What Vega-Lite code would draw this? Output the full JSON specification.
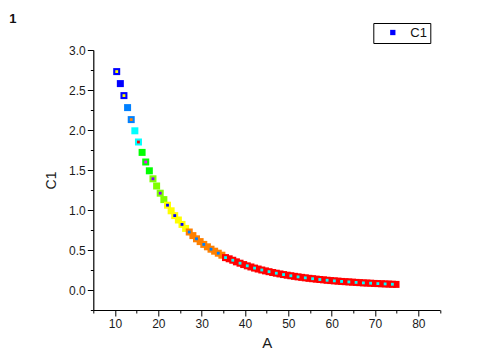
{
  "$schema": "https://vega.github.io/schema/vega-lite/v6.json",
  "autosize": {"type": "none"},
  "width": 346.7,
  "height": 260,
  "padding": {"left": 93.3, "top": 50, "right": 47, "bottom": 44},
  "background": "#ffffff",
  "title": {"text": "1", "anchor": "start", "frame": "group", "dx": -84, "offset": -3, "font": "Liberation Sans", "fontSize": 13, "fontWeight": "bold", "color": "#111111"},
  "config": {
    "view": {"stroke": null},
    "axis": {"labelFont": "Liberation Sans", "titleFont": "Liberation Sans", "labelColor": "#1a1a1a", "titleColor": "#1a1a1a", "domainColor": "#000000", "tickColor": "#000000", "grid": false}
  },
  "data": {"values": [
    {"x": 10.40, "y": 2.73, "d": 1}, {"x": 11.24, "y": 2.58, "d": 0}, {"x": 12.07, "y": 2.43, "d": 1}, {"x": 12.91, "y": 2.28, "d": 0},
    {"x": 13.75, "y": 2.13, "d": 1}, {"x": 14.59, "y": 1.99, "d": 0}, {"x": 15.42, "y": 1.85, "d": 1}, {"x": 16.26, "y": 1.72, "d": 0},
    {"x": 17.10, "y": 1.60, "d": 1}, {"x": 17.93, "y": 1.49, "d": 0}, {"x": 18.77, "y": 1.39, "d": 1}, {"x": 19.61, "y": 1.30, "d": 0},
    {"x": 20.44, "y": 1.21, "d": 1}, {"x": 21.28, "y": 1.13, "d": 0}, {"x": 22.12, "y": 1.06, "d": 1}, {"x": 22.96, "y": 0.99, "d": 0},
    {"x": 23.79, "y": 0.93, "d": 1}, {"x": 24.63, "y": 0.875, "d": 0}, {"x": 25.47, "y": 0.82, "d": 1}, {"x": 26.30, "y": 0.77, "d": 0},
    {"x": 27.14, "y": 0.725, "d": 1}, {"x": 27.98, "y": 0.68, "d": 0}, {"x": 28.81, "y": 0.64, "d": 1}, {"x": 29.65, "y": 0.605, "d": 0},
    {"x": 30.49, "y": 0.57, "d": 1}, {"x": 31.33, "y": 0.54, "d": 0}, {"x": 32.16, "y": 0.51, "d": 1}, {"x": 33.00, "y": 0.485, "d": 0},
    {"x": 33.84, "y": 0.46, "d": 1}, {"x": 34.67, "y": 0.435, "d": 0}, {"x": 35.51, "y": 0.405, "d": 1}, {"x": 36.35, "y": 0.39, "d": 0},
    {"x": 37.18, "y": 0.372, "d": 1}, {"x": 38.02, "y": 0.352, "d": 0}, {"x": 38.86, "y": 0.335, "d": 1}, {"x": 39.70, "y": 0.318, "d": 0},
    {"x": 40.53, "y": 0.302, "d": 1}, {"x": 41.37, "y": 0.288, "d": 0}, {"x": 42.21, "y": 0.274, "d": 1}, {"x": 43.04, "y": 0.262, "d": 0},
    {"x": 43.88, "y": 0.25, "d": 1}, {"x": 44.72, "y": 0.239, "d": 0}, {"x": 45.55, "y": 0.229, "d": 1}, {"x": 46.39, "y": 0.219, "d": 0},
    {"x": 47.23, "y": 0.21, "d": 1}, {"x": 48.07, "y": 0.201, "d": 0}, {"x": 48.90, "y": 0.193, "d": 1}, {"x": 49.74, "y": 0.185, "d": 0},
    {"x": 50.58, "y": 0.178, "d": 1}, {"x": 51.41, "y": 0.171, "d": 0}, {"x": 52.25, "y": 0.164, "d": 1}, {"x": 53.09, "y": 0.158, "d": 0},
    {"x": 53.92, "y": 0.152, "d": 1}, {"x": 54.76, "y": 0.146, "d": 0}, {"x": 55.60, "y": 0.141, "d": 1}, {"x": 56.44, "y": 0.136, "d": 0},
    {"x": 57.27, "y": 0.131, "d": 1}, {"x": 58.11, "y": 0.127, "d": 0}, {"x": 58.95, "y": 0.122, "d": 1}, {"x": 59.78, "y": 0.118, "d": 0},
    {"x": 60.62, "y": 0.114, "d": 1}, {"x": 61.46, "y": 0.111, "d": 0}, {"x": 62.29, "y": 0.107, "d": 1}, {"x": 63.13, "y": 0.104, "d": 0},
    {"x": 63.97, "y": 0.101, "d": 1}, {"x": 64.81, "y": 0.098, "d": 0}, {"x": 65.64, "y": 0.095, "d": 1}, {"x": 66.48, "y": 0.092, "d": 0},
    {"x": 67.32, "y": 0.089, "d": 1}, {"x": 68.15, "y": 0.087, "d": 0}, {"x": 68.99, "y": 0.085, "d": 1}, {"x": 69.83, "y": 0.082, "d": 0},
    {"x": 70.66, "y": 0.08, "d": 1}, {"x": 71.50, "y": 0.078, "d": 0}, {"x": 72.34, "y": 0.076, "d": 1}, {"x": 73.18, "y": 0.074, "d": 0},
    {"x": 74.01, "y": 0.072, "d": 1}, {"x": 74.85, "y": 0.070, "d": 0}
  ]},
  "resolve": {"scale": {"color": "independent"}, "axis": {"x": "independent", "y": "independent"}},
  "layer": [
    {
      "transform": [{"calculate": "'C1'", "as": "series"}],
      "mark": {"type": "point", "filled": true, "size": 49, "opacity": 1, "strokeWidth": 0},
      "encoding": {
        "x": {"field": "x", "type": "quantitative", "scale": {"domain": [5, 85], "nice": false, "zero": false},
              "axis": {"orient": "bottom", "values": [10, 20, 30, 40, 50, 60, 70, 80], "title": "A", "titleFontSize": 15, "titleFontWeight": "normal", "titlePadding": 6, "labelFontSize": 12, "tickSize": 6, "labelPadding": 2, "domainWidth": 1.2, "tickWidth": 1}},
        "y": {"field": "y", "type": "quantitative", "scale": {"domain": [-0.25, 3.0], "nice": false, "zero": false},
              "axis": {"orient": "left", "values": [0, 0.5, 1, 1.5, 2, 2.5, 3], "format": ".1f", "title": "C1", "titleFontSize": 14, "titleFontWeight": "normal", "titlePadding": 10, "labelFontSize": 12, "tickSize": 6, "labelPadding": 2, "domainWidth": 1.2, "tickWidth": 1}},
        "color": {"field": "y", "type": "quantitative",
                  "scale": {"type": "threshold", "domain": [0.42, 0.745, 1.08, 1.40, 1.74, 2.06, 2.40],
                            "range": ["#ff0000", "#ff8000", "#ffff00", "#80ff00", "#00ff00", "#00ffff", "#0080ff", "#0000ff"]},
                  "legend": null},
        "shape": {"field": "series", "type": "nominal", "scale": {"domain": ["C1"], "range": ["square"]},
                  "legend": {"title": null, "orient": "none", "legendX": 280, "legendY": -27, "strokeColor": "#000000", "padding": 3,
                             "symbolSize": 28, "symbolOffset": 10, "labelOffset": 11, "labelFont": "Liberation Sans", "labelFontSize": 13, "labelColor": "#111111",
                             "symbolFillColor": "#0000ff", "symbolStrokeWidth": 0,
                             "encode": {"symbols": {"update": {"fill": {"value": "#0000ff"}, "stroke": {"value": "transparent"}}}}}}
      }
    },
    {
      "transform": [{"filter": "datum.d == 1"}],
      "mark": {"type": "square", "size": 8, "opacity": 1},
      "encoding": {
        "x": {"field": "x", "type": "quantitative", "scale": {"domain": [5, 85], "nice": false, "zero": false},
              "axis": {"orient": "bottom", "values": [5, 15, 25, 35, 45, 55, 65, 75, 85], "labels": false, "domain": false, "title": null, "tickSize": 3, "tickWidth": 1}},
        "y": {"field": "y", "type": "quantitative", "scale": {"domain": [-0.25, 3.0], "nice": false, "zero": false},
              "axis": {"orient": "left", "values": [-0.25, 0.25, 0.75, 1.25, 1.75, 2.25, 2.75], "labels": false, "domain": false, "title": null, "tickSize": 3, "tickWidth": 1}},
        "color": {"field": "y", "type": "quantitative",
                  "scale": {"type": "threshold", "domain": [0.42, 0.745, 1.08, 1.40, 1.74, 2.06, 2.40],
                            "range": ["#00ffff", "#0080ff", "#0000ff", "#8000ff", "#ff00ff", "#ff0000", "#ff8000", "#ffff00"]},
                  "legend": null}
      }
    }
  ]
}
